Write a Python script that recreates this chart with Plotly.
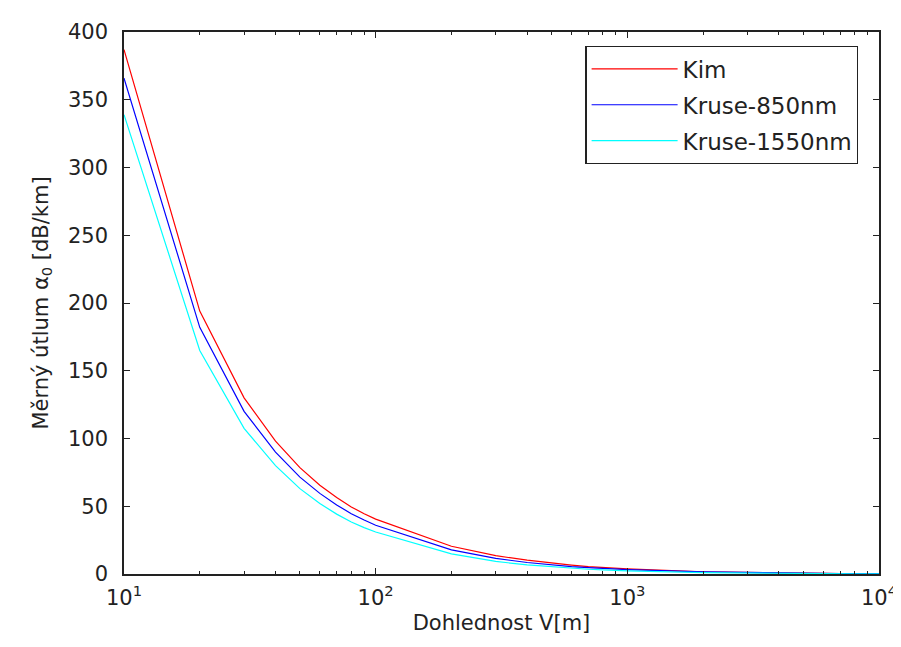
import plotly.graph_objects as go

# visibility V [m]
visibility = [10, 20, 30, 40, 50, 60, 70, 80, 90, 100,
              200, 300, 400, 500, 600, 700, 800, 900, 1000,
              2000, 3000, 4000, 5000, 6000, 7000, 8000, 9000, 10000]

# specific attenuation [dB/km]
kim = [387, 194, 130, 98, 78.5, 65.5, 56.5, 49.5, 44.5, 40.5,
       20.5, 13.5, 10.2, 8.0, 6.6, 5.5, 4.8, 4.3, 3.8,
       1.6, 1.0, 0.7, 0.55, 0.45, 0.38, 0.32, 0.28, 0.25]
kruse_850 = [366, 182, 120, 90, 71.5, 59.5, 51, 44.5, 39.8, 36,
             17.8, 11.5, 8.5, 6.7, 5.5, 4.7, 4.1, 3.6, 3.2,
             1.5, 0.95, 0.68, 0.52, 0.42, 0.33, 0.29, 0.26, 0.23]
kruse_1550 = [339, 165, 107.5, 80, 63, 52, 44.2, 38.4, 34.2, 31,
              14.8, 9.3, 6.7, 5.2, 4.2, 3.5, 3.0, 2.6, 2.3,
              0.95, 0.56, 0.38, 0.29, 0.23, 0.16, 0.14, 0.12, 0.10]

x_ticks = [10, 100, 1000, 10000]
x_ticktext = ["10<sup>1</sup>", "10<sup>2</sup>", "10<sup>3</sup>", "10<sup>4</sup>"]

series = [("Kim", kim, "#ff0000"),
          ("Kruse-850nm", kruse_850, "#0000ff"),
          ("Kruse-1550nm", kruse_1550, "#00ffff")]

FONT = "DejaVu Sans, Arial, sans-serif"
FS = 21
INK = "#222222"

fig = go.Figure()
for name, vals, col in series:
    fig.add_trace(go.Scatter(x=visibility, y=vals, mode="lines", name=name,
                             legendgroup=name,
                             line=dict(color=col, width=1.2)))

axis_common = dict(showline=True, linecolor=INK, linewidth=1.5, mirror="ticks",
                   ticks="inside", ticklen=6, tickcolor=INK, tickwidth=1,
                   showgrid=False, zeroline=False,
                   tickfont=dict(family=FONT, size=FS, color=INK))

fig.update_xaxes(type="log", range=[1, 4], tickmode="array",
                 tickvals=x_ticks, ticktext=x_ticktext, ticklabelstandoff=4,
                 minor=dict(ticks="inside", ticklen=3, tickcolor=INK, dtick="D1"),
                 title=dict(text="Dohlednost V[m]", font=dict(family=FONT, size=FS, color=INK),
                            standoff=6),
                 **axis_common)
fig.update_yaxes(range=[0, 400], dtick=50, ticklabelstandoff=10,
                 title=dict(text="Měrný útlum α<sub>0</sub> [dB/km]",
                            font=dict(family=FONT, size=FS, color=INK), standoff=14),
                 **axis_common)

fig.update_layout(
    width=901, height=647,
    margin=dict(l=116, r=21, t=23, b=81),
    paper_bgcolor="white", plot_bgcolor="white",
    legend=dict(x=0.611, y=0.974, xanchor="left", yanchor="top",
                bordercolor=INK, borderwidth=1.3, bgcolor="white",
                font=dict(family=FONT, size=23, color=INK),
                itemwidth=86, tracegroupgap=3),
    showlegend=True,
)

fig.write_html("out.html")
